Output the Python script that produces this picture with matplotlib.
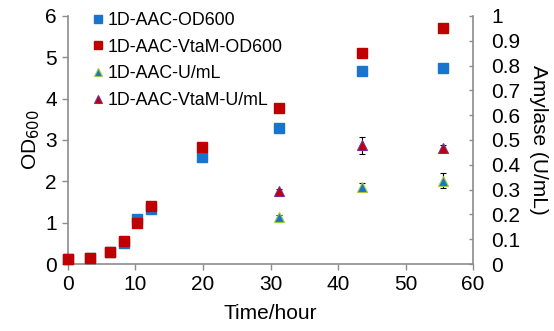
import numpy as np
import matplotlib.pyplot as plt
from matplotlib.lines import Line2D

plt.rcParams['font.family'] = ['Liberation Sans', 'DejaVu Sans']

# time points (hours)
t_od = [0, 3.3, 6.2, 8.3, 10.2, 12.3, 19.8, 31.2, 43.6, 55.6]
od_aac = [0.12, 0.14, 0.28, 0.50, 1.08, 1.33, 2.59, 3.29, 4.66, 4.73]
od_vtam = [0.12, 0.14, 0.28, 0.56, 1.00, 1.40, 2.84, 3.77, 5.11, 5.71]

t_u = [31.2, 43.6, 55.6]
u_aac = [0.19, 0.31, 0.335]
u_aac_err = [0.008, 0.015, 0.03]
u_vtam = [0.295, 0.478, 0.468]
u_vtam_err = [0.008, 0.035, 0.01]

labels = ['1D-AAC-OD600', '1D-AAC-VtaM-OD600', '1D-AAC-U/mL', '1D-AAC-VtaM-U/mL']

blue = '#1874CD'
red = '#C00000'
gray = '#8C8C8C'
green = '#A5C93A'
purple = '#7030A0'

fig = plt.figure(figsize=(5.54, 3.31), dpi=100)
ax = fig.add_axes([0.1227, 0.2024, 0.7313, 0.7496])
ax2 = ax.twinx()

ax.plot(t_od, od_aac, 's', color=blue, ms=7, zorder=3, clip_on=False)
ax.plot(t_od, od_vtam, 's', color=red, ms=7, zorder=4, clip_on=False)
ax2.errorbar(t_u, u_aac, yerr=u_aac_err, fmt='^', color=blue, mec=green, mew=0.8,
             ms=7, ecolor='black', elinewidth=0.8, capsize=2.5)
ax2.errorbar(t_u, u_vtam, yerr=u_vtam_err, fmt='^', color=red, mec=purple, mew=0.8,
             ms=7, ecolor='black', elinewidth=0.8, capsize=2.5)

ax.set_xlim(0, 60)
ax.set_ylim(0, 6)
ax2.set_ylim(0, 1)
ax.set_xticks(np.arange(0, 61, 10))
ax.set_yticks(np.arange(0, 7, 1))
ax2.set_yticks(np.arange(0, 1.01, 0.1))
ax2.set_yticklabels(['0'] + ['%.1f' % v for v in np.arange(0.1, 1.0, 0.1)] + ['1'])

for a in (ax, ax2):
    a.spines['top'].set_visible(False)
    for s in a.spines.values():
        s.set_color(gray)
        s.set_linewidth(1.2)
    a.tick_params(colors=gray, labelcolor='black', labelsize=15, length=4.5, width=1)
ax.spines['right'].set_visible(False)
ax2.spines['left'].set_visible(False)
ax2.spines['bottom'].set_visible(False)
ax2.tick_params(axis='y', direction='in', length=3, pad=13)

ax.set_xlabel('Time/hour', fontsize=15, labelpad=7)
ax.set_ylabel('OD$_{600}$', fontsize=15, labelpad=2)
ax2.set_ylabel('Amylase (U/mL)', fontsize=15, rotation=270, labelpad=20)

handles = [
    Line2D([], [], ls='none', marker='s', color=blue, ms=6),
    Line2D([], [], ls='none', marker='s', color=red, ms=6),
    Line2D([], [], ls='none', marker='^', color=blue, mec=green, mew=0.8, ms=6),
    Line2D([], [], ls='none', marker='^', color=red, mec=purple, mew=0.8, ms=6),
]
ax.legend(handles, labels, loc='upper left', bbox_to_anchor=(0.045, 1.045), frameon=False,
          fontsize=12.8, handlelength=0.5, handletextpad=0.3, labelspacing=0.55,
          borderaxespad=0)
ax.set_zorder(ax2.get_zorder() + 1)
ax.patch.set_visible(False)

fig.savefig('out.png', dpi=100)
